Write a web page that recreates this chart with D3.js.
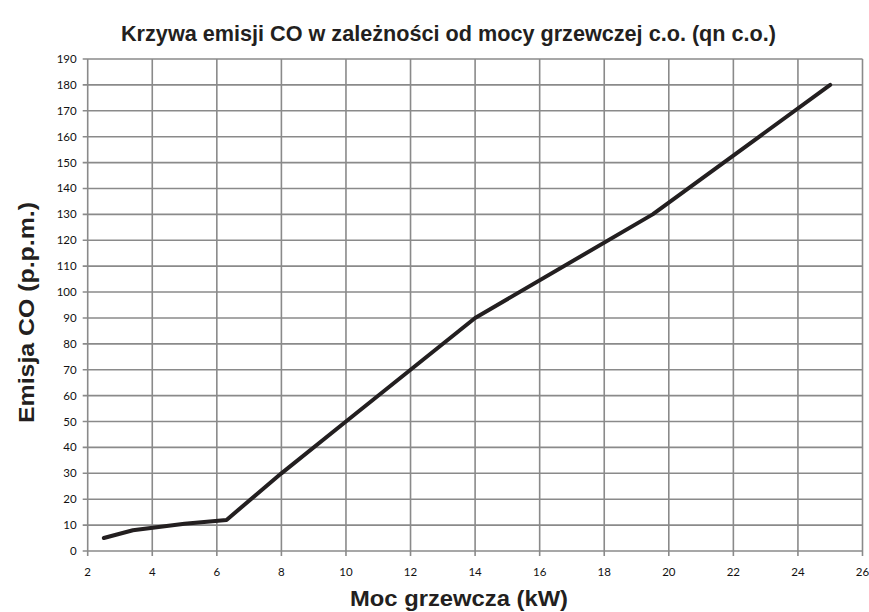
<!DOCTYPE html>
<html>
<head>
<meta charset="utf-8">
<script src="https://cdn.jsdelivr.net/npm/d3@7"></script>
<style>
  html, body { margin: 0; padding: 0; background: #fff; }
  svg { display: block; }
</style>
</head>
<body>
<svg id="chart" width="869" height="612"></svg>
<script>
// Heating power (kW) and CO emission (p.p.m.)
const power = [2.5, 3.4, 5, 6.3, 8, 10, 12, 14, 19.5, 25];
const emission = [5, 8, 10.5, 12, 30, 50, 70, 90, 130, 180];
const xTicks = [2, 4, 6, 8, 10, 12, 14, 16, 18, 20, 22, 24, 26];
const yTicks = d3.range(0, 191, 10);

const titleText = "Krzywa emisji CO w zależności od mocy grzewczej c.o. (qn c.o.)";
const xLabel = "Moc grzewcza (kW)";
const yLabel = "Emisja CO (p.p.m.)";

const svg = d3.select("#chart");
const plotLeft = 87.7, plotRight = 862.5, plotTop = 59, plotBottom = 551;

const x = d3.scaleLinear().domain([2, 26]).range([plotLeft, plotRight]);
const y = d3.scaleLinear().domain([0, 190]).range([plotBottom, plotTop]);

const gridColor = "#8a8a8a";
const tickFont = "Lato, 'Open Sans', sans-serif";
const labelFont = "'Liberation Sans', Arial, sans-serif";

// vertical grid lines
svg.append("g").selectAll("line").data(xTicks).join("line")
  .attr("x1", d => x(d)).attr("x2", d => x(d))
  .attr("y1", plotTop).attr("y2", plotBottom + 5)
  .attr("stroke", gridColor).attr("stroke-width", 1.6);

// horizontal grid lines
svg.append("g").selectAll("line").data(yTicks).join("line")
  .attr("x1", plotLeft - 5).attr("x2", plotRight)
  .attr("y1", d => y(d)).attr("y2", d => y(d))
  .attr("stroke", gridColor).attr("stroke-width", 1.6);

// x tick labels
svg.append("g").selectAll("text").data(xTicks).join("text")
  .attr("x", d => x(d)).attr("y", plotBottom + 25)
  .attr("text-anchor", "middle")
  .attr("font-family", tickFont).attr("font-size", 11.5)
  .attr("fill", "#111")
  .text(d => d);

// y tick labels
svg.append("g").selectAll("text").data(yTicks).join("text")
  .attr("x", plotLeft - 11).attr("y", d => y(d)).attr("dy", "0.35em")
  .attr("text-anchor", "end")
  .attr("font-family", tickFont).attr("font-size", 11.5)
  .attr("fill", "#111")
  .text(d => d);

// emission curve
const line = d3.line().x((d, i) => x(power[i])).y(d => y(d));
svg.append("path")
  .datum(emission)
  .attr("d", line)
  .attr("fill", "none")
  .attr("stroke", "#231f20")
  .attr("stroke-width", 4)
  .attr("stroke-linejoin", "round")
  .attr("stroke-linecap", "round");

// title and axis labels
svg.append("text")
  .attr("x", 448.5).attr("y", 41)
  .attr("text-anchor", "middle")
  .attr("font-family", labelFont)
  .attr("font-weight", "bold").attr("font-size", 21.5)
  .attr("textLength", 655).attr("lengthAdjust", "spacingAndGlyphs")
  .attr("fill", "#231f20")
  .text(titleText);

svg.append("text")
  .attr("x", 459).attr("y", 606)
  .attr("text-anchor", "middle")
  .attr("font-family", labelFont)
  .attr("font-weight", "bold").attr("font-size", 22)
  .attr("textLength", 218).attr("lengthAdjust", "spacingAndGlyphs")
  .attr("fill", "#231f20")
  .text(xLabel);

svg.append("text")
  .attr("transform", "translate(34,312.5) rotate(-90)")
  .attr("text-anchor", "middle")
  .attr("font-family", labelFont)
  .attr("font-weight", "bold").attr("font-size", 22)
  .attr("textLength", 221).attr("lengthAdjust", "spacingAndGlyphs")
  .attr("fill", "#231f20")
  .text(yLabel);
</script>
</body>
</html>
